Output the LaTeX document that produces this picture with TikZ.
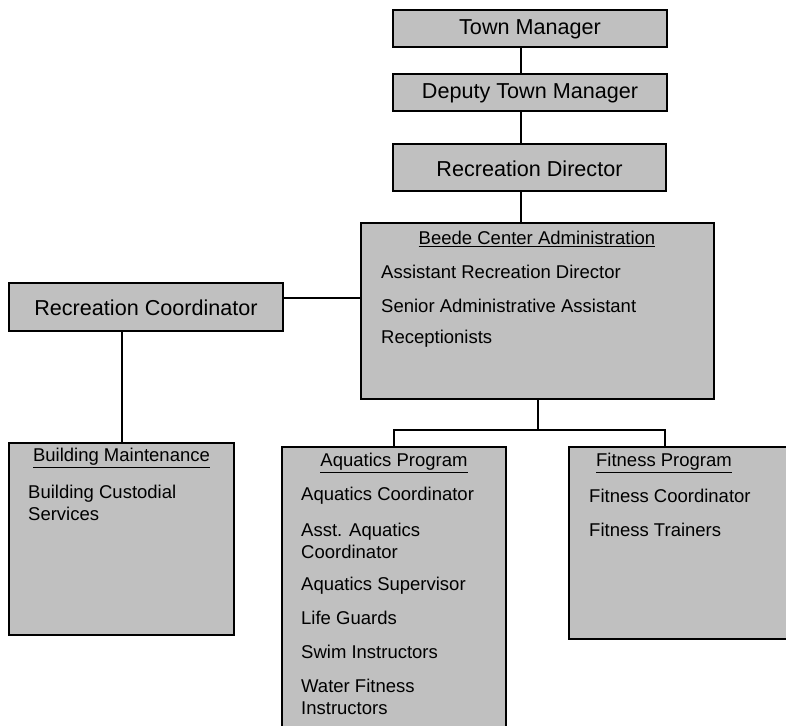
\documentclass[tikz,border=0pt]{standalone}
\usepackage{fontspec}
\setmainfont{Liberation Sans}
\usetikzlibrary{positioning}
\definecolor{boxgray}{RGB}{192,192,192}

\tikzset{
  unit/.style={draw=black,fill=boxgray,line width=2pt,rectangle,inner sep=0pt,anchor=north west},
  title/.style={font=\fontsize{21.6}{25}\selectfont,inner sep=0pt},
  head/.style={font=\fontsize{18.5}{22}\selectfont,inner sep=0pt,anchor=center},
  item/.style={font=\fontsize{18.5}{22}\selectfont,inner sep=0pt,anchor=west,align=left},
  link/.style={line width=2pt}
}

\begin{document}
\begin{tikzpicture}[x=1pt,y=-1pt]
  \clip (0,0) rectangle (786,725);
  \fill[white] (0,0) rectangle (786,725);

  % top of the chain
  \node[unit,minimum width=274pt,minimum height=37pt] (tm) at (392,9) {};
  \node[title] (tmtext) at ([yshift=-1pt]tm.center) {Town Manager};
  \node[unit,minimum width=274pt,minimum height=37pt] (dtm) at (392,73) {};
  \node[title] (dtmtext) at ([yshift=-1pt]dtm.center) {Deputy Town Manager};
  \node[unit,minimum width=273pt,minimum height=47pt] (rd) at (392,143) {};
  \node[title] (rdtext) at ([yshift=-1pt]rd.center) {Recreation Director};

  % Beede Center
  \node[unit,minimum width=353pt,minimum height=176pt] (bca) at (360,222) {};
  \node[head] (bcahead) at (537,239) {\underline{Beede Center Administration}};
  \node[item] (bca1) at (381,272) {Assistant Recreation Director};
  \node[item] (bca2) at (381,306) {Senior Administrative Assistant};
  \node[item] (bca3) at (381,339) {Receptionists};

  % Recreation Coordinator
  \node[unit,minimum width=274pt,minimum height=48pt] (rc) at (8,282) {};
  \node[title] (rctext) at ([yshift=-1pt]rc.center) {Recreation Coordinator};

  % Building Maintenance
  \node[unit,minimum width=225pt,minimum height=192pt] (bm) at (8,442) {};
  \node[head] (bmhead) at (bm.north |- 0,458) {\underline{Building Maintenance}};
  \node[item] (bm1) at (28,503) {Building Custodial\\Services};

  % Aquatics Program
  \node[unit,minimum width=224pt,minimum height=300pt] (aq) at (281,446) {};
  \node[head] (aqhead) at (aq.north |- 0,463) {\underline{Aquatics Program}};
  \node[item] (aq1) at (301,496) {Aquatics Coordinator};
  \node[item] (aq2) at (301,541) {Asst. Aquatics\\Coordinator};
  \node[item] (aq3) at (301,586) {Aquatics Supervisor};
  \node[item] (aq4) at (301,618) {Life Guards};
  \node[item] (aq5) at (301,652) {Swim Instructors};
  \node[item] (aq6) at (301,697) {Water Fitness\\Instructors};

  % Fitness Program
  \node[unit,minimum width=222pt,minimum height=192pt] (fp) at (568,446) {};
  \node[head] (fphead) at (664,463) {\underline{Fitness Program}};
  \node[item] (fp1) at (589,496) {Fitness Coordinator};
  \node[item] (fp2) at (589,530) {Fitness Trainers};

  % connectors
  \coordinate (spine) at (521,0);
  \coordinate (bus) at (0,430);
  \coordinate (fpdrop) at (665,0);
  \coordinate (rclevel) at (0,298);
  \draw[link] (tm.south -| spine) -- (dtm.north -| spine);
  \draw[link] (dtm.south -| spine) -- (rd.north -| spine);
  \draw[link] (rd.south -| spine) -- (bca.north -| spine);
  \draw[link] (bca.south) -- (bca.south |- bus);
  \draw[link] (aq.north) -- (aq.north |- bus) -- (fpdrop |- bus) -- (fp.north -| fpdrop);
  \draw[link] (rc.east |- rclevel) -- (bca.west |- rclevel);
  \draw[link] (bm.north) -- (bm.north |- rc.south);
\end{tikzpicture}
\end{document}
